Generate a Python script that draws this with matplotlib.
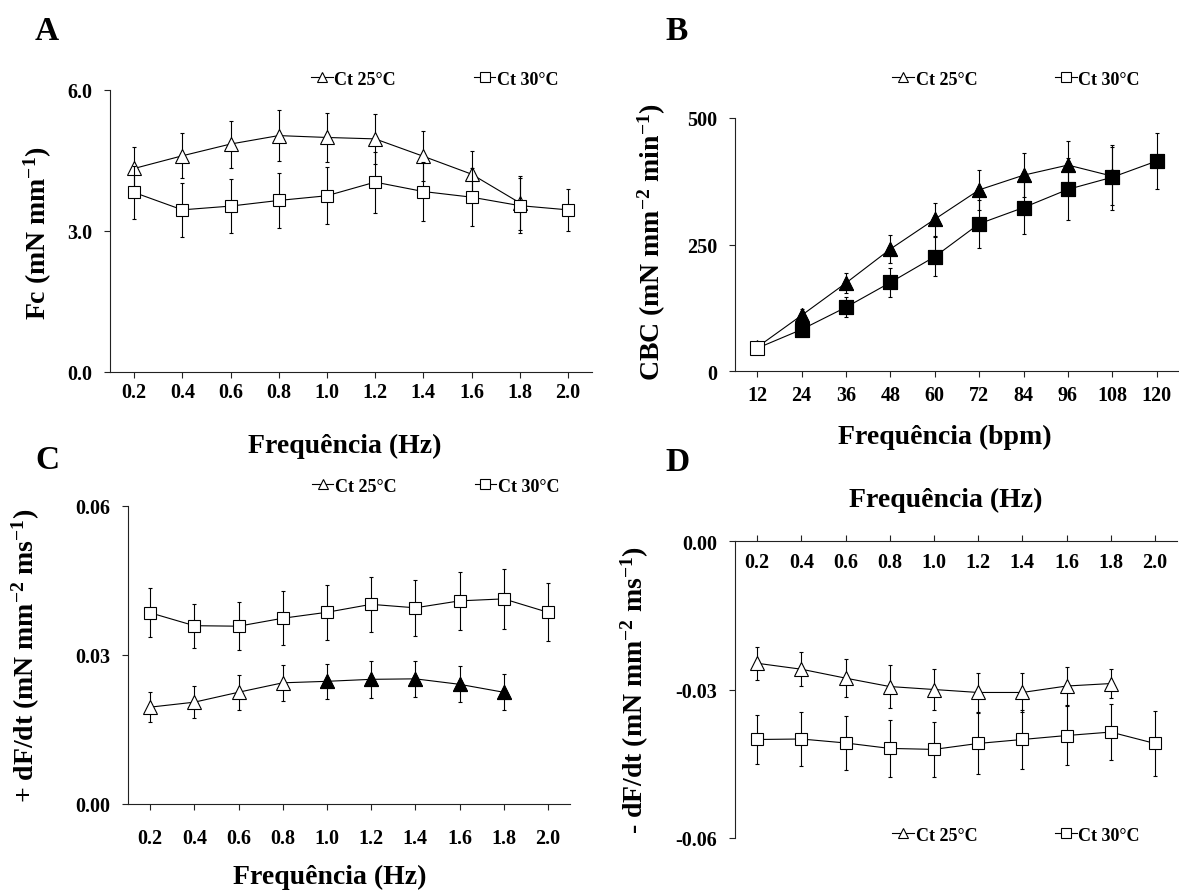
import matplotlib.pyplot as plt
from matplotlib.lines import Line2D
import numpy as np

plt.rcParams['font.family'] = ['Liberation Serif', 'DejaVu Serif']
plt.rcParams['font.weight'] = 'bold'
plt.rcParams['axes.labelweight'] = 'bold'
plt.rcParams['axes.unicode_minus'] = False
plt.rcParams['mathtext.fontset'] = 'custom'
plt.rcParams['mathtext.rm'] = 'Liberation Serif:bold'
plt.rcParams['mathtext.bf'] = 'Liberation Serif:bold'
plt.rcParams['mathtext.it'] = 'Liberation Serif:italic:bold'
plt.rcParams['mathtext.default'] = 'bf'

hz_labels = ['0.2', '0.4', '0.6', '0.8', '1.0', '1.2', '1.4', '1.6', '1.8', '2.0']
bpm_labels = ['12', '24', '36', '48', '60', '72', '84', '96', '108', '120']

# A - Fc
fc_25 = [4.33, 4.60, 4.85, 5.03, 4.99, 4.96, 4.59, 4.21, 3.60]
fc_25_err = [0.45, 0.48, 0.50, 0.54, 0.53, 0.54, 0.53, 0.50, 0.57]
fc_30 = [3.82, 3.45, 3.53, 3.65, 3.75, 4.04, 3.84, 3.72, 3.54, 3.45]
fc_30_err = [0.56, 0.57, 0.58, 0.59, 0.61, 0.65, 0.63, 0.62, 0.59, 0.45]

# B - CBC
cbc_25 = [47, 110, 174, 241, 300, 358, 387, 407, 385]
cbc_25_err = [5, 12, 19, 27, 33, 40, 44, 47, 57]
cbc_30 = [45, 82, 126, 175, 226, 291, 323, 359, 383, 415]
cbc_30_err = [5, 12, 20, 29, 38, 47, 53, 61, 64, 55]

# C - +dF/dt
pdf_25 = [0.0195, 0.0205, 0.0225, 0.0244, 0.0247, 0.0251, 0.0252, 0.0241, 0.0225]
pdf_25_err = [0.0030, 0.0032, 0.0035, 0.0036, 0.0035, 0.0037, 0.0036, 0.0036, 0.0036]
pdf_30 = [0.0385, 0.0359, 0.0358, 0.0374, 0.0386, 0.0402, 0.0395, 0.0409, 0.0413, 0.0386]
pdf_30_err = [0.0049, 0.0044, 0.0048, 0.0054, 0.0055, 0.0056, 0.0056, 0.0058, 0.0060, 0.0058]

# D - -dF/dt
ndf_25 = [-0.0247, -0.0259, -0.0277, -0.0294, -0.0300, -0.0306, -0.0306, -0.0293, -0.0288]
ndf_25_err = [0.0033, 0.0034, 0.0038, 0.0043, 0.0041, 0.0040, 0.0039, 0.0038, 0.0029]
ndf_30 = [-0.0401, -0.0400, -0.0408, -0.0419, -0.0421, -0.0409, -0.0401, -0.0393, -0.0386, -0.0409]
ndf_30_err = [0.0050, 0.0055, 0.0055, 0.0058, 0.0056, 0.0061, 0.0059, 0.0060, 0.0057, 0.0065]

LW = 0.8
AX_COL = '#222222'
W, H = 1179, 895
LABEL_FS = 20


def add_axes(fig, x0, x1, ytop, ybot):
    return fig.add_axes([x0 / W, (H - ybot) / H, (x1 - x0) / W, (ybot - ytop) / H])


def series(ax, y, err, marker, ms, z, filled=None):
    x = np.arange(len(y))
    y = np.array(y)
    ax.errorbar(x, y, yerr=err, fmt='none', ecolor='black', elinewidth=LW,
                capsize=1.6, capthick=LW, zorder=z)
    ax.plot(x, y, color='black', lw=LW, marker=marker, ms=ms, mfc='white',
            mec='black', mew=LW, zorder=z + 1)
    if filled is not None:
        ax.plot(x[filled], y[filled], ls='none', marker=marker, ms=ms,
                mfc='black', mec='black', mew=LW, zorder=z + 1)


def style(ax, xlabels, yticks, ylabels):
    ax.set_xlim(-0.5, 9.5)
    ax.set_ylim(min(yticks), max(yticks))
    ax.set_xticks(range(10))
    ax.set_xticklabels(xlabels)
    ax.set_yticks(yticks)
    ax.set_yticklabels(ylabels)
    for s in ['top', 'right']:
        ax.spines[s].set_visible(False)
    for s in ax.spines.values():
        s.set_color(AX_COL)
        s.set_linewidth(LW)
    ax.tick_params(direction='out', length=4, width=LW, color=AX_COL, labelsize=14.5)
    ax.tick_params(axis='y', pad=9)


def legend(ax, x, y):
    h = [Line2D([], [], color='black', lw=LW, marker='^', ms=7.5, mfc='white', mew=LW),
         Line2D([], [], color='black', lw=LW, marker='s', ms=7, mfc='white', mew=LW)]
    ax.legend(h, ['Ct 25°C', 'Ct 30°C'], ncol=2, frameon=False, loc='center',
              bbox_to_anchor=(x, y), handlelength=1.2, handletextpad=0.1,
              columnspacing=4.3, fontsize=13)


fig = plt.figure(figsize=(W / 100, H / 100), dpi=100)

# A
axA = add_axes(fig, 110, 592, 91, 373)
series(axA, fc_25, fc_25_err, '^', 9.5, 2)
series(axA, fc_30, fc_30_err, 's', 9, 4)
style(axA, hz_labels, [0, 3, 6], ['0.0', '3.0', '6.0'])
axA.tick_params(axis='x', pad=3)
axA.set_xlabel('Frequência (Hz)', fontsize=LABEL_FS, va='center')
axA.xaxis.set_label_coords(0.488, -0.262)
axA.set_ylabel('Fc (mN mm$^{-1}$)', fontsize=LABEL_FS, va='center')
axA.yaxis.set_label_coords(-0.149, 0.496)
legend(axA, 0.674, 1.039)

# B
axB = add_axes(fig, 735, 1179, 119, 372)
series(axB, cbc_25, cbc_25_err, '^', 10, 2, filled=slice(1, None))
series(axB, cbc_30, cbc_30_err, 's', 9.5, 4, filled=slice(1, None))
style(axB, bpm_labels, [0, 250, 500], ['0', '250', '500'])
axB.tick_params(axis='x', pad=6)
axB.set_xlabel('Frequência (bpm)', fontsize=LABEL_FS, va='center')
axB.xaxis.set_label_coords(0.473, -0.257)
axB.set_ylabel('CBC (mN mm$^{-2}$ min$^{-1}$)', fontsize=LABEL_FS, va='center')
axB.yaxis.set_label_coords(-0.187, 0.514)
legend(axB, 0.633, 1.154)

# C
axC = add_axes(fig, 128, 570, 507, 805)
series(axC, pdf_25, pdf_25_err, '^', 9.5, 2, filled=slice(4, None))
series(axC, pdf_30, pdf_30_err, 's', 9, 4)
style(axC, hz_labels, [0, 0.03, 0.06], ['0.00', '0.03', '0.06'])
axC.tick_params(axis='x', pad=13)
axC.set_xlabel('Frequência (Hz)', fontsize=LABEL_FS, va='center')
axC.xaxis.set_label_coords(0.456, -0.242)
axC.set_ylabel('+ dF/dt (mN mm$^{-2}$ ms$^{-1}$)', fontsize=LABEL_FS, va='center')
axC.yaxis.set_label_coords(-0.231, 0.5)
legend(axC, 0.696, 1.067)

# D
axD = add_axes(fig, 735, 1177, 542, 839)
series(axD, ndf_25, ndf_25_err, '^', 9.5, 2)
series(axD, ndf_30, ndf_30_err, 's', 9, 4)
style(axD, hz_labels, [-0.06, -0.03, 0], ['-0.06', '-0.03', '0.00'])
axD.spines['top'].set_visible(True)
axD.spines['bottom'].set_visible(False)
axD.tick_params(axis='x', bottom=False, labelbottom=False, top=True, labeltop=True, pad=-26)
axD.xaxis.set_label_position('top')
axD.set_xlabel('Frequência (Hz)', fontsize=LABEL_FS, va='center')
axD.xaxis.set_label_coords(0.477, 1.141)
axD.set_ylabel('- dF/dt (mN mm$^{-2}$ ms$^{-1}$)', fontsize=LABEL_FS, va='center')
axD.yaxis.set_label_coords(-0.226, 0.502)
legend(axD, 0.636, 0.01)

for letter, x, y in [('A', 47, 32), ('B', 677, 31), ('C', 47, 461), ('D', 678, 463)]:
    fig.text(x / W, 1 - y / H, letter, fontsize=24, fontweight='bold', ha='center', va='center')

fig.savefig('out.png', dpi=100)
